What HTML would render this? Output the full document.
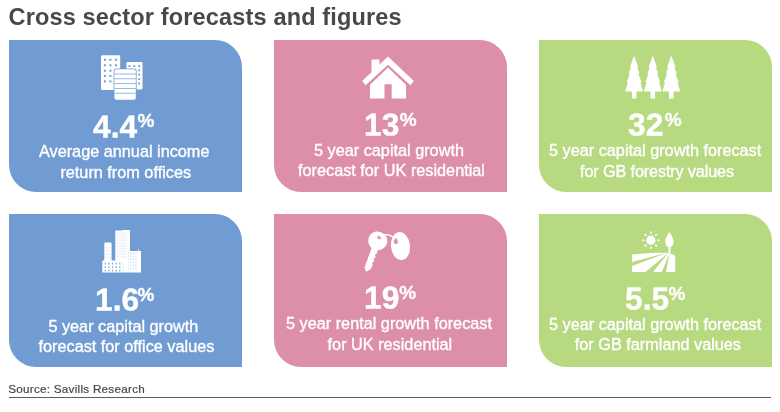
<!DOCTYPE html>
<html lang="en">
<head>
<meta charset="utf-8">
<title>Cross sector forecasts and figures</title>
<style>
html,body{margin:0;padding:0;background:#fff;}
body{width:780px;height:412px;position:relative;overflow:hidden;font-family:"Liberation Sans",Arial,Helvetica,sans-serif;}
.t{position:absolute;white-space:nowrap;line-height:1;margin:0;padding:0;}
h1.t{font-size:23.5px;font-weight:bold;color:#48484a;left:8.5px;top:6px;letter-spacing:0.16px;}
.box{position:absolute;width:233px;height:152px;}
.blue{background:#709cd3;}
.pink{background:#dd8eaa;}
.green{background:#b7d980;}
.r1{top:40.3px;height:152px;border-radius:0 27px 0 27px;}
.r2{top:214.4px;height:152.6px;border-radius:0 27px 0 27px;}
.c1{left:9px;}
.c2{left:274.3px;}
.c3{left:539.4px;}
.num{color:#fff;font-weight:bold;font-size:29px;-webkit-text-stroke:0.4px #fff;transform:scale(1.095,1.09) rotate(0.03deg);transform-origin:0 100%;}
.pct{color:#fff;font-weight:bold;font-size:19px;-webkit-text-stroke:0.3px #fff;}
.d{color:#fff;font-size:16.25px;-webkit-text-stroke:0.35px #fff;}
.src{color:#48484a;-webkit-text-stroke:0.2px #48484a;font-size:11.7px;letter-spacing:0.26px;left:8.2px;top:382.6px;}
.rule{position:absolute;left:8.5px;top:397px;width:762px;height:1.4px;background:#5b5b66;}
svg{position:absolute;left:0;top:0;overflow:visible;}
</style>
</head>
<body>
<h1 class="t" id="title">Cross sector forecasts and figures</h1>

<div class="box blue r1 c1"></div>
<div class="box pink r1 c2"></div>
<div class="box green r1 c3"></div>
<div class="box blue r2 c1"></div>
<div class="box pink r2 c2"></div>
<div class="box green r2 c3"></div>

<!-- box 1 -->
<div class="t num" id="n1" style="left:93.4px;top:113.5px;">4.4</div>
<div class="t pct" id="p1" style="left:137.4px;top:111.4px;">%</div>
<div class="t d" id="d1a" style="left:39px;top:143.3px;">Average annual income</div>
<div class="t d" id="d1b" style="left:60.4px;top:163.8px;">return from offices</div>

<!-- box 2 -->
<div class="t num" id="n2" style="left:364.4px;top:111.5px;">13</div>
<div class="t pct" id="p2" style="left:399.7px;top:110.2px;">%</div>
<div class="t d" id="d2a" style="left:314px;top:142px;">5 year capital growth</div>
<div class="t d" id="d2b" style="left:298px;top:161.9px;">forecast for UK residential</div>

<!-- box 3 -->
<div class="t num" id="n3" style="left:628.1px;top:112.3px;">32</div>
<div class="t pct" id="p3" style="left:664.8px;top:110.1px;">%</div>
<div class="t d" id="d3a" style="left:549px;top:142.4px;">5 year capital growth forecast</div>
<div class="t d" id="d3b" style="left:580.1px;top:163.2px;letter-spacing:-0.15px;">for GB forestry values</div>

<!-- box 4 -->
<div class="t num" id="n4" style="left:95.4px;top:287.3px;">1.6</div>
<div class="t pct" id="p4" style="left:137.4px;top:285.4px;">%</div>
<div class="t d" id="d4a" style="left:48.4px;top:317.5px;">5 year capital growth</div>
<div class="t d" id="d4b" style="left:38.5px;top:337.8px;">forecast for office values</div>

<!-- box 5 -->
<div class="t num" id="n5" style="left:363.8px;top:285.4px;">19</div>
<div class="t pct" id="p5" style="left:399.3px;top:283.4px;">%</div>
<div class="t d" id="d5a" style="left:286px;top:315.1px;">5 year rental growth forecast</div>
<div class="t d" id="d5b" style="left:327.6px;top:335.5px;">for UK residential</div>

<!-- box 6 -->
<div class="t num" id="n6" style="left:624.6px;top:285.5px;">5.5</div>
<div class="t pct" id="p6" style="left:668.6px;top:284.2px;">%</div>
<div class="t d" id="d6a" style="left:549px;top:316.1px;">5 year capital growth forecast</div>
<div class="t d" id="d6b" style="left:574.8px;top:336.3px;">for GB farmland values</div>

<svg width="780" height="412" viewBox="0 0 780 412">
<g id="ico1">
<rect x="101" y="55.3" width="19.2" height="34.8" rx="1.3" fill="#fff"/>
<rect x="103.9" y="58.8" width="2" height="2" fill="#709cd3"/>
<rect x="103.9" y="64.3" width="2" height="2" fill="#709cd3"/>
<rect x="103.9" y="69.7" width="2" height="2" fill="#709cd3"/>
<rect x="103.9" y="74.9" width="2" height="2" fill="#709cd3"/>
<rect x="103.9" y="80.4" width="2" height="2" fill="#709cd3"/>
<rect x="109.4" y="58.8" width="2" height="2" fill="#709cd3"/>
<rect x="109.4" y="64.3" width="2" height="2" fill="#709cd3"/>
<rect x="109.4" y="69.7" width="2" height="2" fill="#709cd3"/>
<rect x="109.4" y="74.9" width="2" height="2" fill="#709cd3"/>
<rect x="109.4" y="80.4" width="2" height="2" fill="#709cd3"/>
<rect x="114.9" y="58.8" width="2" height="2" fill="#709cd3"/>
<rect x="114.9" y="64.3" width="2" height="2" fill="#709cd3"/>
<rect x="114.9" y="69.7" width="2" height="2" fill="#709cd3"/>
<rect x="114.9" y="74.9" width="2" height="2" fill="#709cd3"/>
<rect x="114.9" y="80.4" width="2" height="2" fill="#709cd3"/>
<rect x="126.4" y="62" width="16.1" height="27.4" rx="1.3" fill="#fff"/>
<rect x="128.5" y="65.2" width="1.8" height="1.8" fill="#709cd3"/>
<rect x="133.4" y="65.2" width="1.8" height="1.8" fill="#709cd3"/>
<rect x="138.3" y="65.2" width="1.8" height="1.8" fill="#709cd3"/>
<rect x="138.3" y="69.4" width="1.8" height="1.8" fill="#709cd3"/>
<rect x="138.3" y="73.7" width="1.8" height="1.8" fill="#709cd3"/>
<rect x="138.3" y="78.2" width="1.8" height="1.8" fill="#709cd3"/>
<rect x="138.3" y="82.6" width="1.8" height="1.8" fill="#709cd3"/>
<rect x="113.6" y="68.4" width="23" height="32" rx="2.6" fill="#709cd3"/>
<rect x="114.4" y="69.2" width="21.4" height="30.5" rx="2" fill="#fff"/>
<rect x="114.4" y="73.65" width="21.4" height="0.7" fill="#709cd3"/>
<rect x="114.4" y="78.45" width="21.4" height="0.7" fill="#709cd3"/>
<rect x="114.4" y="83.25" width="21.4" height="0.7" fill="#709cd3"/>
<rect x="114.4" y="88.05" width="21.4" height="0.7" fill="#709cd3"/>
<rect x="114.4" y="92.85" width="21.4" height="0.7" fill="#709cd3"/>
</g>
<g id="ico2" fill="#fff">
<path d="M388 56.5 L413.8 81.1 L410.4 85.2 L388 64.7 L365.6 85.2 L362.2 81.1 Z"/>
<path d="M371.5 59.4 H379.4 V66 L371.5 73.5 Z"/>
<path d="M388 67.4 L406 84.8 V98.5 H391.7 V84.3 H384.5 V98.5 H370 V84.8 Z"/>
</g>
<g id="ico3" fill="#fff">
<path d="M634.5 56.4 L638.3 67.2 L637.2 67.6 L639.5 73.5 L638.4 73.9 L641.6 82.2 L640.3 82.6 L642.8 90.6 L642.8 91.4 L636.4 91.4 L636.4 98.5 L631.9 98.5 L631.9 91.4 L625.4 91.4 L625.4 90.6 L627.9 82.6 L626.6 82.2 L629.8 73.9 L628.7 73.5 L631.0 67.6 L629.9 67.2 L633.7 56.4 Z"/>
<path d="M653.2 56.4 L657.0 67.2 L655.9 67.6 L658.2 73.5 L657.1 73.9 L660.3 82.2 L659.0 82.6 L661.5 90.6 L661.5 91.4 L655.0 91.4 L655.0 98.5 L650.5 98.5 L650.5 91.4 L644.1 91.4 L644.1 90.6 L646.6 82.6 L645.3 82.2 L648.5 73.9 L647.4 73.5 L649.7 67.6 L648.6 67.2 L652.4 56.4 Z"/>
<path d="M671.7 56.4 L675.5 67.2 L674.4 67.6 L676.7 73.5 L675.6 73.9 L678.8 82.2 L677.5 82.6 L680.0 90.6 L680.0 91.4 L673.5 91.4 L673.5 98.5 L669.0 98.5 L669.0 91.4 L662.6 91.4 L662.6 90.6 L665.1 82.6 L663.8 82.2 L667.0 73.9 L665.9 73.5 L668.2 67.6 L667.1 67.2 L670.9 56.4 Z"/>
</g>
<g id="ico4">
<path fill="#fff" d="M115.3 230.6 H122.5 V230.1 H130 V250.9 H141 V272.6 H102.3 V260.6 H104.3 V243.6 Q104.3 242.4 105.5 242.4 H110.4 Q111.6 242.4 111.6 243.6 V260.6 H115.3 Z"/>
<rect x="116.4" y="232.60" width="11" height="0.5" fill="#709cd3" opacity="0.22"/>
<rect x="116.4" y="234.15" width="11" height="0.5" fill="#709cd3" opacity="0.22"/>
<rect x="116.4" y="235.70" width="11" height="0.5" fill="#709cd3" opacity="0.22"/>
<rect x="116.4" y="237.25" width="11" height="0.5" fill="#709cd3" opacity="0.22"/>
<rect x="116.4" y="238.80" width="11" height="0.5" fill="#709cd3" opacity="0.22"/>
<rect x="116.4" y="240.35" width="11" height="0.5" fill="#709cd3" opacity="0.22"/>
<rect x="116.4" y="241.90" width="11" height="0.5" fill="#709cd3" opacity="0.22"/>
<rect x="116.4" y="243.45" width="11" height="0.5" fill="#709cd3" opacity="0.22"/>
<rect x="116.4" y="245.00" width="11" height="0.5" fill="#709cd3" opacity="0.22"/>
<rect x="116.4" y="246.55" width="11" height="0.5" fill="#709cd3" opacity="0.22"/>
<rect x="116.4" y="248.10" width="11" height="0.5" fill="#709cd3" opacity="0.22"/>
<rect x="116.4" y="249.65" width="11" height="0.5" fill="#709cd3" opacity="0.22"/>
<rect x="116.4" y="251.20" width="11" height="0.5" fill="#709cd3" opacity="0.22"/>
<rect x="116.4" y="252.75" width="11" height="0.5" fill="#709cd3" opacity="0.22"/>
<rect x="116.4" y="254.30" width="11" height="0.5" fill="#709cd3" opacity="0.22"/>
<rect x="116.4" y="255.85" width="11" height="0.5" fill="#709cd3" opacity="0.22"/>
<rect x="116.4" y="257.40" width="11" height="0.5" fill="#709cd3" opacity="0.22"/>
<rect x="104.8" y="247.6" width="6.3" height="0.6" fill="#709cd3" opacity="0.3"/>
<rect x="104.8" y="250.6" width="6.3" height="0.6" fill="#709cd3" opacity="0.3"/>
<rect x="104.8" y="253.7" width="6.3" height="0.6" fill="#709cd3" opacity="0.3"/>
<rect x="104.8" y="256.8" width="6.3" height="0.6" fill="#709cd3" opacity="0.3"/>
<rect x="104.7" y="262.7" width="1.2" height="1.8" fill="#709cd3" opacity="0.9"/>
<rect x="104.7" y="266.3" width="1.2" height="1.8" fill="#709cd3" opacity="0.9"/>
<rect x="104.7" y="269.7" width="1.2" height="1.8" fill="#709cd3" opacity="0.9"/>
<rect x="108.3" y="262.7" width="1.2" height="1.8" fill="#709cd3" opacity="0.9"/>
<rect x="108.3" y="266.3" width="1.2" height="1.8" fill="#709cd3" opacity="0.9"/>
<rect x="108.3" y="269.7" width="1.2" height="1.8" fill="#709cd3" opacity="0.9"/>
<rect x="111.9" y="262.7" width="1.2" height="1.8" fill="#709cd3" opacity="0.9"/>
<rect x="111.9" y="266.3" width="1.2" height="1.8" fill="#709cd3" opacity="0.9"/>
<rect x="111.9" y="269.7" width="1.2" height="1.8" fill="#709cd3" opacity="0.9"/>
<rect x="115.6" y="262.7" width="1.2" height="1.8" fill="#709cd3" opacity="0.9"/>
<rect x="115.6" y="266.3" width="1.2" height="1.8" fill="#709cd3" opacity="0.9"/>
<rect x="115.6" y="269.7" width="1.2" height="1.8" fill="#709cd3" opacity="0.9"/>
<rect x="119.2" y="262.7" width="1.2" height="1.8" fill="#709cd3" opacity="0.9"/>
<rect x="119.2" y="266.3" width="1.2" height="1.8" fill="#709cd3" opacity="0.9"/>
<rect x="119.2" y="269.7" width="1.2" height="1.8" fill="#709cd3" opacity="0.9"/>
<rect x="130.2" y="252.6" width="1" height="1.4" fill="#709cd3" opacity="0.45"/>
<rect x="130.2" y="255.6" width="1" height="1.4" fill="#709cd3" opacity="0.45"/>
<rect x="130.2" y="258.6" width="1" height="1.4" fill="#709cd3" opacity="0.45"/>
<rect x="130.2" y="261.7" width="1" height="1.4" fill="#709cd3" opacity="0.45"/>
<rect x="130.2" y="264.7" width="1" height="1.4" fill="#709cd3" opacity="0.45"/>
<rect x="130.2" y="267.7" width="1" height="1.4" fill="#709cd3" opacity="0.45"/>
<rect x="132.8" y="252.6" width="1" height="1.4" fill="#709cd3" opacity="0.45"/>
<rect x="132.8" y="255.6" width="1" height="1.4" fill="#709cd3" opacity="0.45"/>
<rect x="132.8" y="258.6" width="1" height="1.4" fill="#709cd3" opacity="0.45"/>
<rect x="132.8" y="261.7" width="1" height="1.4" fill="#709cd3" opacity="0.45"/>
<rect x="132.8" y="264.7" width="1" height="1.4" fill="#709cd3" opacity="0.45"/>
<rect x="132.8" y="267.7" width="1" height="1.4" fill="#709cd3" opacity="0.45"/>
<rect x="135.4" y="252.6" width="1" height="1.4" fill="#709cd3" opacity="0.45"/>
<rect x="135.4" y="255.6" width="1" height="1.4" fill="#709cd3" opacity="0.45"/>
<rect x="135.4" y="258.6" width="1" height="1.4" fill="#709cd3" opacity="0.45"/>
<rect x="135.4" y="261.7" width="1" height="1.4" fill="#709cd3" opacity="0.45"/>
<rect x="135.4" y="264.7" width="1" height="1.4" fill="#709cd3" opacity="0.45"/>
<rect x="135.4" y="267.7" width="1" height="1.4" fill="#709cd3" opacity="0.45"/>
<rect x="122.7" y="261" width="0.5" height="11.6" fill="#709cd3" opacity="0.25"/>
<rect x="128.2" y="251" width="0.5" height="21.6" fill="#709cd3" opacity="0.25"/>
<rect x="138.4" y="249" width="0.7" height="2" fill="#fff"/>
</g>
<g id="ico5">
<ellipse cx="400.5" cy="246.1" rx="9.5" ry="14.1" fill="#fff" transform="rotate(-6 400.5 246.1)"/>
<g transform="rotate(20 377.7 241)">
<path fill="#fff" d="M377.7 231.6 C383.4 231.6 387.2 235.6 387.2 240.6 C387.2 245 384.6 248.3 381 249.6 V254 L379.6 255 L381 256.2 V258.2 L379.6 259.2 L381 260.4 V262.4 L379.6 263.4 L381 264.6 V269.6 L377.2 273.8 L374.4 270.6 V249.6 C370.8 248.3 368.2 245 368.2 240.6 C368.2 235.6 372 231.6 377.7 231.6 Z"/>
</g>
<ellipse cx="379.2" cy="237.6" rx="2.1" ry="1.6" fill="#dd8eaa" transform="rotate(20 379.2 237.6)"/>
<ellipse cx="395.7" cy="241.2" rx="2" ry="3.1" fill="#dd8eaa" transform="rotate(-12 395.7 241.2)"/>
<path d="M385.6 234.6 C388 234.6 390.5 235.6 392.6 237.4" fill="none" stroke="#dd8eaa" stroke-width="2.6" opacity="0.55"/>
<path d="M380 237 C381.6 234.8 384 234.4 386.4 234.6 C390.2 234.9 393 236.4 394.9 239.8" fill="none" stroke="#fff" stroke-width="1.15" stroke-linecap="round"/>
</g>
<g id="ico6">
<path fill="#fff" d="M632.1 254.5 C645 253.2 658 252.5 668.3 252.9 C671 253.3 673.5 254.5 675.2 256 V272.1 H632.1 Z"/>
<path fill="#b7d980" d="M667.5 252.6 L632.1 261.9 L632.1 265.9 Z"/>
<path fill="#b7d980" d="M668.3 252.8 L645.5 272.1 L653.1 272.1 Z"/>
<path fill="#b7d980" d="M669.6 253.4 L661.8 272.1 L665.9 272.1 Z"/>
<circle cx="650.8" cy="240.2" r="4.6" fill="#fff"/>
<line x1="657.8" y1="240.2" x2="658.9" y2="240.2" stroke="#fff" stroke-width="1.6" stroke-linecap="round"/>
<line x1="655.7" y1="245.1" x2="656.5" y2="245.9" stroke="#fff" stroke-width="1.6" stroke-linecap="round"/>
<line x1="650.8" y1="247.2" x2="650.8" y2="248.3" stroke="#fff" stroke-width="1.6" stroke-linecap="round"/>
<line x1="645.9" y1="245.1" x2="645.1" y2="245.9" stroke="#fff" stroke-width="1.6" stroke-linecap="round"/>
<line x1="643.8" y1="240.2" x2="642.7" y2="240.2" stroke="#fff" stroke-width="1.6" stroke-linecap="round"/>
<line x1="645.9" y1="235.3" x2="645.1" y2="234.5" stroke="#fff" stroke-width="1.6" stroke-linecap="round"/>
<line x1="650.8" y1="233.2" x2="650.8" y2="232.1" stroke="#fff" stroke-width="1.6" stroke-linecap="round"/>
<line x1="655.7" y1="235.3" x2="656.5" y2="234.5" stroke="#fff" stroke-width="1.6" stroke-linecap="round"/>
<path fill="#fff" d="M669.4 231.9 C671 234.4 673.6 238.4 673.6 241.8 C673.6 244.8 672 246.6 670.4 247.2 V253 H668.5 V247.2 C666.8 246.6 665.2 244.8 665.2 241.8 C665.2 238.4 667.8 234.4 669.4 231.9 Z"/>
</g>
</svg>
<div class="t src" id="src">Source: Savills Research</div>
<div class="rule"></div>
</body>
</html>
